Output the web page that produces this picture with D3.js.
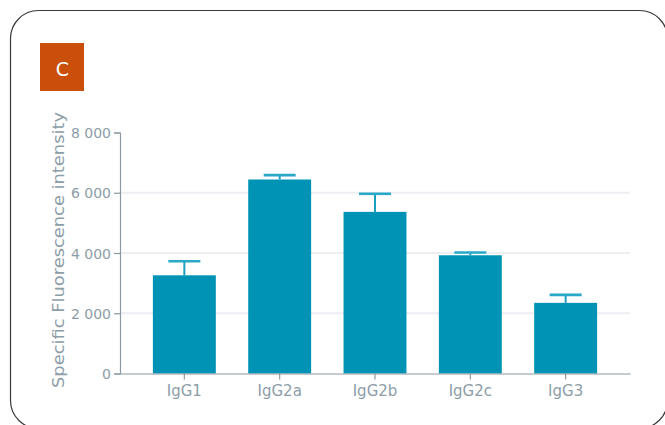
<!DOCTYPE html>
<html>
<head>
<meta charset="utf-8">
<script src="https://cdn.jsdelivr.net/npm/d3@7"></script>
<style>
  html, body { margin: 0; padding: 0; background: #fff; }
  svg { display: block; }
</style>
</head>
<body>
<svg id="chart" width="665" height="425"></svg>
<script>
const categories = ["IgG1", "IgG2a", "IgG2b", "IgG2c", "IgG3"];
const values = [3260, 6440, 5365, 3925, 2345];
const errors = [465, 145, 600, 90, 265];
const yTicks = [0, 2000, 4000, 6000, 8000];
const yTickLabels = ["0", "2 000", "4 000", "6 000", "8 000"];
const yLabel = "Specific Fluorescence intensity";
const panelLabel = "C";

const svg = d3.select("#chart");
const font = "'DejaVu Sans', 'Liberation Sans', Arial, sans-serif";
const textColor = "#8d9da7";

// frame
svg.append("rect")
  .attr("x", 10.5).attr("y", 10.5)
  .attr("width", 657).attr("height", 418)
  .attr("rx", 28).attr("ry", 28)
  .attr("fill", "none").attr("stroke", "#3a3a3a").attr("stroke-width", 1.2);

// panel label box
svg.append("rect")
  .attr("x", 40).attr("y", 43).attr("width", 44).attr("height", 48)
  .attr("fill", "#c94f0b");
svg.append("text")
  .attr("x", 62.5).attr("y", 75.5)
  .attr("text-anchor", "middle")
  .attr("font-family", font).attr("font-size", 19)
  .attr("fill", "#fff")
  .text(panelLabel);

const x0 = 120, x1 = 630, yTop = 132.5, yBot = 373.5;

const x = d3.scaleBand().domain(categories).range([x0, x1])
  .paddingInner(0.34).paddingOuter(0.345);
const y = d3.scaleLinear().domain([0, 8000]).range([yBot, yTop]);

// gridlines
svg.append("g").selectAll("line")
  .data(yTicks.filter(d => d > 0 && d < 8000))
  .join("line")
  .attr("x1", x0).attr("x2", x1)
  .attr("y1", d => y(d)).attr("y2", d => y(d))
  .attr("stroke", "#eceef2").attr("stroke-width", 2);

// bars
svg.append("g").selectAll("rect")
  .data(categories)
  .join("rect")
  .attr("x", d => x(d))
  .attr("width", x.bandwidth())
  .attr("y", (d, i) => y(values[i]))
  .attr("height", (d, i) => yBot - y(values[i]))
  .attr("fill", "#0093b5");

// error bars
const eg = svg.append("g");
categories.forEach((c, i) => {
  const cx = x(c) + x.bandwidth() / 2;
  eg.append("line")
    .attr("x1", cx).attr("x2", cx)
    .attr("y1", y(values[i])).attr("y2", y(values[i] + errors[i]))
    .attr("stroke", "#1a9fc0").attr("stroke-width", 2);
  eg.append("line")
    .attr("x1", cx - 16).attr("x2", cx + 16)
    .attr("y1", y(values[i] + errors[i])).attr("y2", y(values[i] + errors[i]))
    .attr("stroke", "#2aa8c8").attr("stroke-width", 2.6);
});

// y axis
const yAxis = d3.axisLeft(y).tickValues(yTicks)
  .tickFormat((d, i) => yTickLabels[i]).tickSize(6).tickPadding(3);
const yg = svg.append("g").attr("transform", `translate(${x0},0)`).call(yAxis);
yg.select(".domain").attr("stroke", "#8a99a2").attr("stroke-width", 1.2);
yg.selectAll(".tick line").attr("stroke", "#8a99a2").attr("stroke-width", 1.2);
yg.selectAll(".tick text")
  .attr("font-family", font).attr("font-size", 14)
  .attr("fill", textColor).attr("dy", "0.36em");

// x axis
const xAxis = d3.axisBottom(x).tickSize(6).tickPadding(6).tickSizeOuter(0);
const xg = svg.append("g").attr("transform", `translate(0,${yBot})`).call(xAxis);
xg.select(".domain").attr("stroke", "#8a99a2").attr("stroke-width", 1.2);
xg.selectAll(".tick line").attr("stroke", "#8a99a2").attr("stroke-width", 1.2);
xg.selectAll(".tick text")
  .attr("font-family", font).attr("font-size", 15)
  .attr("fill", textColor);

// y label
svg.append("text")
  .attr("transform", `translate(64,250) rotate(-90)`)
  .attr("text-anchor", "middle")
  .attr("font-family", font).attr("font-size", 16)
  .attr("textLength", 276).attr("lengthAdjust", "spacingAndGlyphs")
  .attr("fill", textColor)
  .text(yLabel);
</script>
</body>
</html>
